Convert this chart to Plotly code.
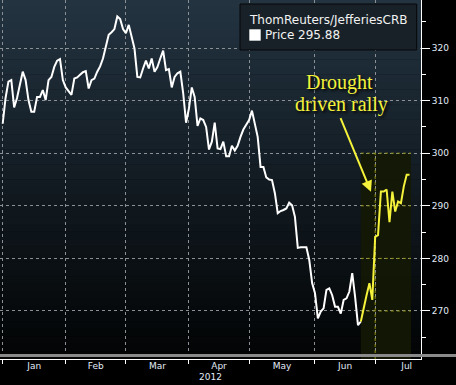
import pandas as pd
import plotly.graph_objects as go

# ---------------- data ----------------
dates = pd.bdate_range("2012-01-02", "2012-07-18")  # trading days (weekdays)
prices = [
    305.6, 310.5, 313.6, 313.9, 308.7, 310.5, 313.0, 315.5, 313.9, 310.1,
    307.9, 307.9, 310.7, 310.7, 312.0, 310.1, 313.9, 314.5, 316.4, 317.6,
    317.9, 313.9, 312.5, 311.7, 311.1, 314.2, 314.4, 314.9, 315.4, 315.6,
    312.3, 313.9, 314.2, 315.5, 316.5, 318.0, 320.5, 322.5, 323.0, 323.6,
    326.0, 325.5, 323.6, 322.8, 324.4, 322.1, 319.9, 314.5, 314.4, 316.1,
    317.6, 316.1, 318.0, 315.5, 316.4, 318.0, 319.5, 315.8, 316.0, 312.5,
    314.5, 315.2, 315.5, 311.4, 305.8, 308.5, 312.5, 310.7, 305.2, 306.6,
    306.3, 305.0, 300.7, 302.2, 305.8, 300.9, 300.8, 302.2, 299.4, 299.4,
    301.4, 300.5, 301.4, 303.1, 304.5, 305.4, 306.3, 308.1, 305.7, 303.1,
    297.4, 297.4, 295.4, 295.0, 294.9, 292.4, 288.6, 289.0, 289.2, 289.5,
    290.6, 290.1, 287.9, 282.0, 282.1, 282.1, 282.1, 279.7, 275.3, 273.4,
    268.6, 269.9, 270.5, 274.0, 274.3, 273.0, 270.8, 270.8, 269.5, 272.1,
    272.4, 273.7, 277.2, 272.7, 267.3, 268.0, 270.8, 273.0, 275.3, 272.1,
    284.1, 284.4, 292.7, 292.7, 293.1, 286.9, 292.7, 288.9, 290.8, 290.5,
    293.7, 295.9, 295.88,
]
rally_start = 125            # index where the "drought driven rally" begins
months = ["Jan", "Feb", "Mar", "Apr", "May", "Jun", "Jul"]
year_label = "2012"
series_title = "ThomReuters/JefferiesCRB"
series_name = "Price"
annotation_lines = ["Drought", "driven rally"]
y_ticks = [270, 280, 290, 300, 310, 320]

# ---------------- derived positions ----------------
n = len(prices)
idx = list(range(n))
month_starts = [i for i in range(n) if i == 0 or dates[i].month != dates[i - 1].month]
month_ends = month_starts[1:] + [month_starts[-1] + 22]
month_mids = [(a + b) / 2 for a, b in zip(month_starts, month_ends)]

W, H = 456, 385
PL, PR, PT, PB = 0, 421, 0, 359          # plot area in pixels
XR = [-0.94, 146.0]
YR = [260.87, 329.13]
YEL = "#f4f23a"


def px_x(p):
    return (p - PL) / (PR - PL)


def px_y(p):
    return (PB - p) / (PB - PT)


fig = go.Figure()

fig.add_trace(go.Scatter(x=idx[:rally_start + 1], y=prices[:rally_start + 1],
                         mode="lines", line=dict(color="white", width=2),
                         showlegend=False, hoverinfo="skip"))
fig.add_trace(go.Scatter(x=idx[rally_start:], y=prices[rally_start:],
                         mode="lines", line=dict(color=YEL, width=2),
                         showlegend=False, hoverinfo="skip"))
# invisible trace to activate xaxis2 (month labels)
fig.add_trace(go.Scatter(x=[idx[0]], y=[prices[0]], xaxis="x2", mode="markers",
                         marker=dict(opacity=0), showlegend=False, hoverinfo="skip"))

shapes = []
# background gradient
top = (0x23, 0x34, 0x41)
bot = (0x02, 0x03, 0x04)
NB = 48
for k in range(NB):
    t = (k + 0.5) / NB
    c = tuple(int(round(top[j] + (bot[j] - top[j]) * t)) for j in range(3))
    shapes.append(dict(type="rect", xref="paper", yref="paper", x0=0, x1=1,
                       y0=1 - (k + 1) / NB, y1=1 - k / NB + 0.001, layer="below",
                       line=dict(width=0), fillcolor="rgb(%d,%d,%d)" % c))
# rally shaded region
rx0, rx1 = rally_start, n - 1 + 0.5
shapes.append(dict(type="rect", xref="x", yref="y", x0=rx0, x1=rx1, y0=YR[0], y1=300,
                   layer="below", line=dict(width=0), fillcolor="rgba(20,24,4,0.9)"))
# yellow gridlines inside shaded region
for v in y_ticks:
    if v <= 300:
        shapes.append(dict(type="line", xref="x", yref="y", x0=rx0, x1=rx1, y0=v, y1=v,
                           layer="between", line=dict(color="#8e8e14", width=1, dash="dot")))
for m in month_starts:
    if rx0 <= m <= rx1:
        shapes.append(dict(type="line", xref="x", yref="y", x0=m, x1=m, y0=YR[0], y1=300,
                           layer="between", line=dict(color="#8e8e14", width=1, dash="dot")))
# grey separator bar
shapes.append(dict(type="rect", xref="paper", yref="paper", x0=0, x1=W / PR,
                   y0=px_y(357), y1=px_y(354), layer="above", line=dict(width=0),
                   fillcolor="#8a8a8a"))
# legend box
shapes.append(dict(type="rect", xref="paper", yref="paper", x0=px_x(240), x1=px_x(416.7),
                   y0=px_y(50), y1=px_y(4), layer="above",
                   line=dict(color="#060708", width=1), fillcolor="#182127"))
shapes.append(dict(type="rect", xref="paper", yref="paper", x0=px_x(249.3), x1=px_x(260.7),
                   y0=px_y(40.7), y1=px_y(29.3), layer="above",
                   line=dict(width=0), fillcolor="white"))

annotations = [
    dict(xref="paper", yref="paper", x=px_x(247), y=px_y(20), xanchor="left", yanchor="middle",
         text=series_title, showarrow=False,
         font=dict(family="DejaVu Sans", size=12, color="#f2f2f2")),
    dict(xref="paper", yref="paper", x=px_x(263), y=px_y(35), xanchor="left", yanchor="middle",
         text="%s %.2f" % (series_name, prices[-1]), showarrow=False,
         font=dict(family="DejaVu Sans", size=12, color="#f2f2f2")),
    dict(xref="paper", yref="paper", x=0.5, y=px_y(376.7), xanchor="center", yanchor="middle",
         text=year_label, showarrow=False,
         font=dict(family="DejaVu Sans", size=9, color="#e2ebf8")),
    dict(xref="x", yref="y", x=117.7, y=313.4, text=annotation_lines[0], showarrow=False,
         xanchor="center", yanchor="middle",
         font=dict(family="Liberation Serif", size=20, color=YEL, shadow="2px 2px 3px #000")),
    dict(xref="x", yref="y", x=118.1, y=309.35, text=annotation_lines[1], showarrow=False,
         xanchor="center", yanchor="middle",
         font=dict(family="Liberation Serif", size=20, color=YEL, shadow="2px 2px 3px #000")),
    dict(xref="x", yref="y", x=128.55, y=292.68, ax=117.7, ay=306.94, axref="x", ayref="y",
         text="", showarrow=True, arrowhead=2, arrowsize=1.1, arrowwidth=2, arrowcolor=YEL,
         standoff=0),
]

fig.update_layout(
    width=W, height=H,
    margin=dict(l=PL, r=W - PR, t=PT, b=H - PB, pad=0),
    paper_bgcolor="black", plot_bgcolor="black",
    showlegend=False, hovermode=False,
    shapes=shapes, annotations=annotations,
    xaxis=dict(range=XR, tickmode="array", tickvals=month_starts,
               ticktext=[""] * len(month_starts), ticks="outside", ticklen=4,
               tickcolor="white", showline=True, linecolor="white", linewidth=1,
               showgrid=True, gridcolor="#8a9096", griddash="dot", gridwidth=1,
               zeroline=False, fixedrange=True),
    xaxis2=dict(range=XR, overlaying="x", side="bottom", anchor="y", tickmode="array",
                tickvals=month_mids, ticktext=months, ticks="", showline=False,
                showgrid=False, zeroline=False,
                tickfont=dict(family="DejaVu Sans", size=9, color="#e2ebf8")),
    yaxis=dict(range=YR, side="right", tickmode="array", tickvals=y_ticks,
               ticks="outside", ticklen=8, tickwidth=1, tickcolor="white",
               showline=True, linecolor="white", linewidth=1,
               showgrid=True, gridcolor="#8a9096", griddash="dot", gridwidth=1,
               zeroline=False,
               minor=dict(tickmode="array", tickvals=[265, 275, 285, 295, 305, 315, 325],
                          ticks="outside", ticklen=4, tickcolor="white", showgrid=False),
               tickfont=dict(family="DejaVu Sans", size=9, color="#e2ebf8")),
)

fig.write_html("out.html", config={"displayModeBar": False},
               post_script="document.body.style.margin='0';")
